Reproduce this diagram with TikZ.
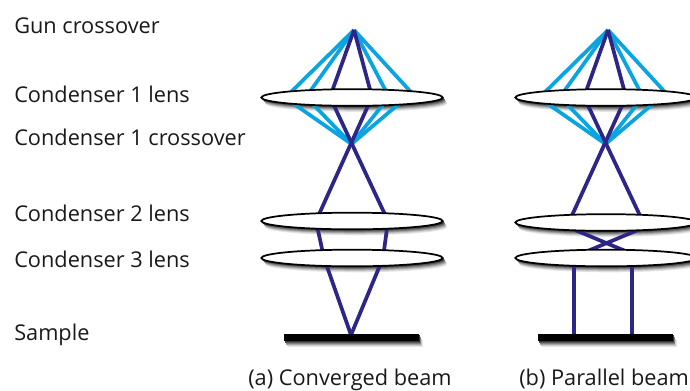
\documentclass[tikz,border=0pt]{standalone}
\usepackage{fontspec}
\setmainfont{Open Sans}
\usetikzlibrary{shapes.geometric}
\definecolor{rayLight}{RGB}{10,165,225}
\definecolor{rayDark}{RGB}{46,38,135}
\tikzset{
  lens/.style={ellipse,draw=black,fill=white,line width=1.3pt,inner sep=0pt,minimum width=136pt,minimum height=12.5pt},
  samplebar/.style={rectangle,fill=black,inner sep=0pt,minimum width=101pt,minimum height=5.6pt},
  lightray/.style={draw=rayLight,line width=2.8pt},
  darkray/.style={draw=rayDark,line width=2.8pt},
  label/.style={anchor=base west,inner sep=0pt,font=\fontsize{16.3}{19}\selectfont,text=black!90}
}
\begin{document}
\begin{tikzpicture}[x=0.75pt,y=0.75pt,yscale=-1,xscale=1]
\clip (0,0) rectangle (690,390);

% Soft shadows
\foreach \step/\tone in {6/10,5/20,4/35,3/50,2/65,1/80}{
\path [fill=black!\tone] (352.6+\step*0.6,97.5+\step) ellipse [x radius=91,y radius=8.3];
\path [fill=black!\tone] (352.6+\step*0.6,221+\step) ellipse [x radius=91,y radius=8.3];
\path [fill=black!\tone] (352.6+\step*0.6,258+\step) ellipse [x radius=91,y radius=8.3];
\path [fill=black!\tone] (606.6+\step*0.6,97.5+\step) ellipse [x radius=91,y radius=8.3];
\path [fill=black!\tone] (606.6+\step*0.6,222.5+\step) ellipse [x radius=91,y radius=8.3];
\path [fill=black!\tone] (606.6+\step*0.6,258+\step) ellipse [x radius=91,y radius=8.3];
\path [fill=black!\tone] (284+\step*0.6,334+\step) rectangle (419+\step*0.6,341+\step);
\path [fill=black!\tone] (538+\step*0.6,334+\step) rectangle (673+\step*0.6,341+\step);
}

% Rays above the first crossover, both beams
\foreach \beam/\dx in {A/0,B/254}{
\coordinate (gun\beam) at (354+\dx,30);
\coordinate (cross\beam) at (351.5+\dx,144);
\coordinate (outL\beam) at (286+\dx,97);
\coordinate (outLlow\beam) at (284+\dx,97);
\coordinate (midL\beam) at (306+\dx,97);
\coordinate (inL\beam) at (330+\dx,97);
\coordinate (inR\beam) at (372+\dx,97);
\coordinate (midR\beam) at (389+\dx,97);
\coordinate (outR\beam) at (415.5+\dx,97);
\coordinate (outRlow\beam) at (407+\dx,97);
\draw [lightray] (gun\beam) -- (outL\beam) -- (outLlow\beam) -- (cross\beam) ;
\draw [lightray] (gun\beam) -- (midL\beam) -- (cross\beam) ;
\draw [lightray] (gun\beam) -- (midR\beam) -- (cross\beam) ;
\draw [lightray] (gun\beam) -- (outR\beam) -- (outRlow\beam) -- (cross\beam) ;
}

% Dark rays, converged beam
\coordinate (c2LA) at (316,221);
\coordinate (c2RA) at (388,221);
\coordinate (c3LA) at (324,258);
\coordinate (c3RA) at (383,258);
\coordinate (spotA) at (351,335);
\draw [darkray] (gunA) -- (inLA) -- (c2RA) -- (c3RA) -- (spotA) ;
\draw [darkray] (gunA) -- (inRA) -- (c2LA) -- (c3LA) -- (spotA) ;

% Dark rays, parallel beam
\coordinate (c2LB) at (569,222);
\coordinate (c2RB) at (643,222);
\coordinate (crossLB) at (556,222);
\coordinate (crossRB) at (657,222);
\coordinate (endLB) at (571,258);
\coordinate (endRB) at (642,258);
\coordinate (c3LB) at (574,258);
\coordinate (c3RB) at (632,258);
\coordinate (spotLB) at (574,335);
\coordinate (spotRB) at (632,335);
\draw [darkray] (gunB) -- (inLB) -- (c2RB) -- (crossRB) -- (endLB) -- (c3LB) -- (spotLB) ;
\draw [darkray] (gunB) -- (inRB) -- (c2LB) -- (crossLB) -- (endRB) -- (c3RB) -- (spotRB) ;

% Lenses
\node [lens] (lensOneA) at (352,97.5) {};
\node [lens] (lensTwoA) at (352,221) {};
\node [lens] (lensThreeA) at (352,258) {};
\node [lens] (lensOneB) at (606,97.5) {};
\node [lens] (lensTwoB) at (606,222.5) {};
\node [lens] (lensThreeB) at (606,258) {};

% Samples
\node [samplebar] (sampleA) at (351.5,337.5) {};
\node [samplebar] (sampleB) at (605.5,337.5) {};

% Text Node
\draw (14,33) node [label] (gunText) {Gun crossover};
% Text Node
\draw (14,102) node [label] (lensOneText) {Condenser 1 lens};
% Text Node
\draw (14,145) node [label] (crossText) {Condenser 1 crossover};
% Text Node
\draw (14,221) node [label] (lensTwoText) {Condenser 2 lens};
% Text Node
\draw (14,267.5) node [label] (lensThreeText) {Condenser 3 lens};
% Text Node
\draw (14,340.5) node [label] (sampleText) {Sample};
% Text Node
\draw (248,385.5) node [label] (convergedText) {(a) Converged beam};
% Text Node
\draw (519,385.5) node [label] (parallelText) {(b) Parallel beam};

\end{tikzpicture}
\end{document}
